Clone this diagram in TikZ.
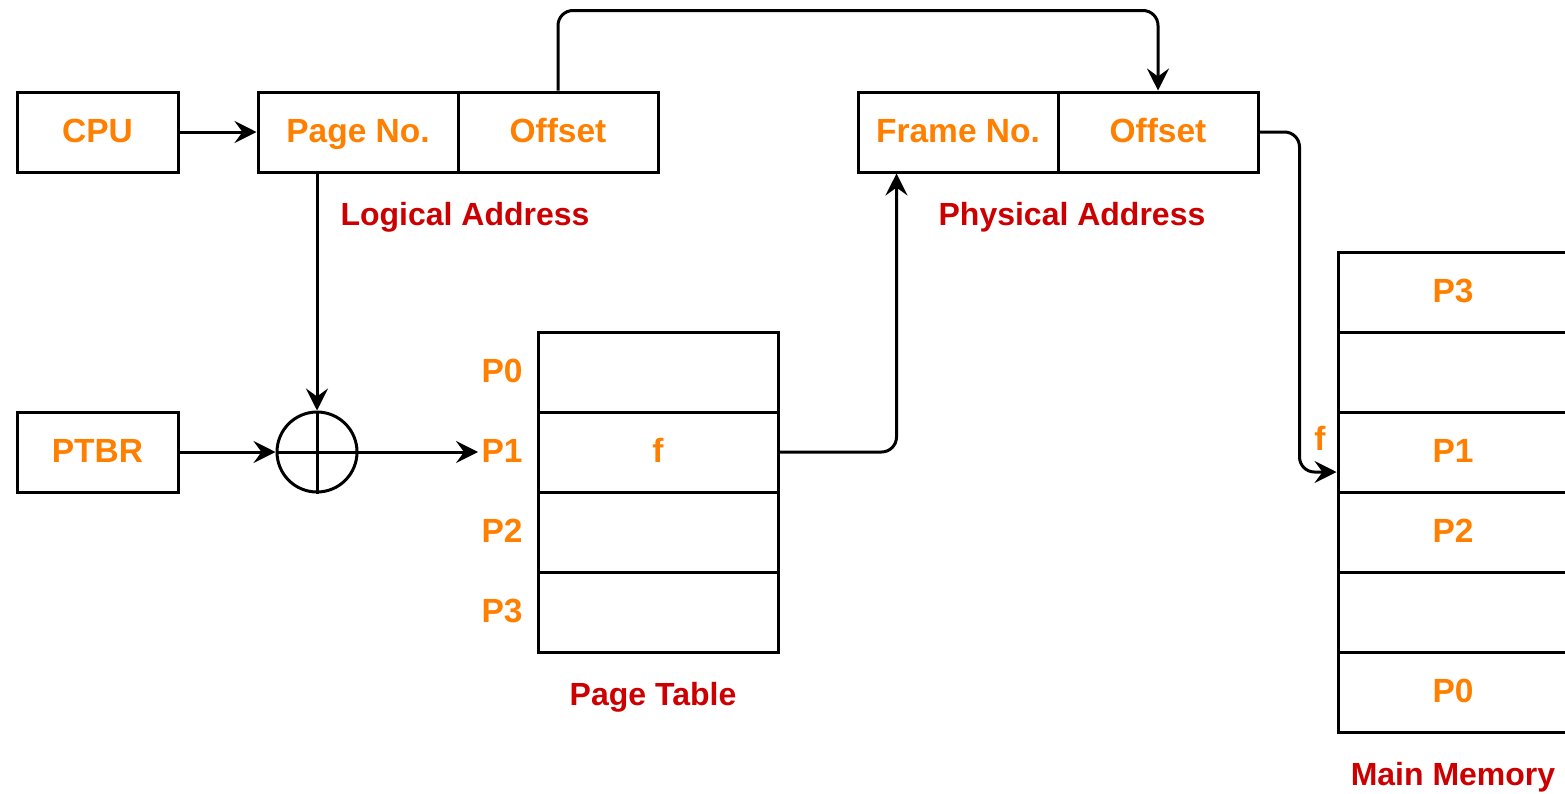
\documentclass[tikz,border=0pt]{standalone}
\usepackage{fontspec}
\setmainfont{Liberation Sans}
\usetikzlibrary{arrows.meta,calc}
\definecolor{txtorange}{HTML}{FF8000}
\definecolor{lblred}{HTML}{CC0000}
\begin{document}
\begin{tikzpicture}[x=1pt,y=-1pt,
  line width=3pt,
  every node/.style={font=\fontsize{33.5}{38}\selectfont\bfseries},
  cell/.style={draw, rectangle, text=txtorange, minimum height=80pt, inner sep=0pt,
    text height=24pt, text depth=4pt},
  tag/.style={text=txtorange, inner sep=2pt, text height=24pt, text depth=4pt},
  caption/.style={text=lblred, font=\fontsize{32}{38}\selectfont\bfseries, inner sep=0pt,
    text height=23pt, text depth=4pt},
  arr/.style={-{Stealth[length=22pt,width=22pt,inset=8pt]}, rounded corners=15pt}]
\useasboundingbox (0,0) rectangle (1565,793);
\clip (0,0) rectangle (1565,793);

% CPU and logical address
\node[cell, minimum width=161pt] (cpu) at (97.5,132) {CPU};
\node[cell, minimum width=200pt] (page) at (358,132) {Page No.};
\node[cell, minimum width=200pt] (loff) at (558,132) {Offset};
\node[caption] (lacap) at (465,216) {Logical Address};

% physical address
\node[cell, minimum width=200pt] (frame) at (958,132) {Frame No.};
\node[cell, minimum width=200pt] (poff) at (1158,132) {Offset};
\node[caption] (pacap) at (1072,216) {Physical Address};

% page table base register and adder
\node[cell, minimum width=161pt] (ptbr) at (97.5,452) {PTBR};
\node[draw, circle, minimum size=80pt, inner sep=0pt] (adder) at (317,452) {};
\draw (adder.north) -- (adder.south);
\draw (adder.west) -- (adder.east);

% page table
\foreach \i/\y/\t in {0/372/{}, 1/452/f, 2/532/{}, 3/612/{}} {
  \node[cell, minimum width=240pt] (pt\i) at (658,\y) {\t};
  \node[tag, anchor=east] (lp\i) at (526,\y) {P\i};
}
\node[caption] (ptcap) at (653,696) {Page Table};

% main memory frames
\foreach \i/\y/\t in {1/292/P3, 2/372/{}, 3/452/P1, 4/532/P2, 5/612/{}, 6/692/P0} {
  \node[cell, minimum width=230pt] (m\i) at (1453,\y) {\t};
}
\node[caption] (mmcap) at (1453,776) {Main Memory};
\coordinate (memin) at ($(m3.west)+(0,20)$);
\node[tag] (flbl) at (1320,440) {f};

% connectors
\draw[arr] (cpu.east) -- (page.west);
\draw[arr] (loff.north) -- ++(0,-80) -| (poff.north);
\draw[arr] (adder |- page.south) -- (adder.north);
\draw[arr] (ptbr.east) -- (adder.west);
\draw[arr] (adder.east) -- (lp1.west);
\draw[arr] (pt1.east) -| ($(frame.south west)+(40,0)$);
\draw[arr] (poff.east) -- ++(40,0) |- (memin);
\end{tikzpicture}
\end{document}
